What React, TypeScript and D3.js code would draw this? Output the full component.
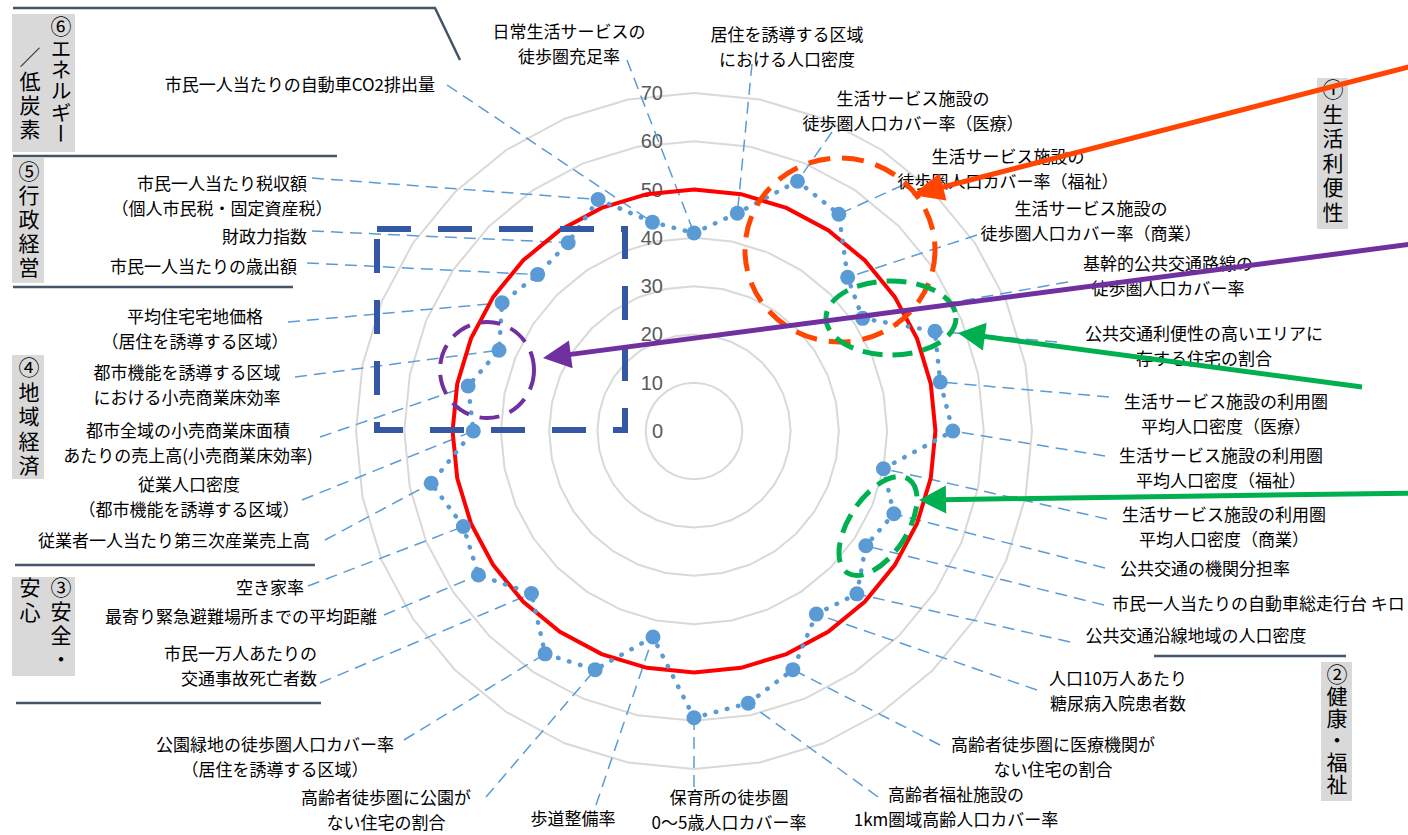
import React from 'react';
import * as d3 from 'd3';

// category labels, clockwise from the top ("\n" = line break)
const categories = [
  '日常生活サービスの\n徒歩圏充足率',
  '居住を誘導する区域\nにおける人口密度',
  '生活サービス施設の\n徒歩圏人口カバー率（医療）',
  '生活サービス施設の\n徒歩圏人口カバー率（福祉）',
  '生活サービス施設の\n徒歩圏人口カバー率（商業）',
  '基幹的公共交通路線の\n徒歩圏人口カバー率',
  '公共交通利便性の高いエリアに\n存する住宅の割合',
  '生活サービス施設の利用圏\n平均人口密度（医療）',
  '生活サービス施設の利用圏\n平均人口密度（福祉）',
  '生活サービス施設の利用圏\n平均人口密度（商業）',
  '公共交通の機関分担率',
  '市民一人当たりの自動車総走行台 キロ',
  '公共交通沿線地域の人口密度',
  '人口10万人あたり\n糖尿病入院患者数',
  '高齢者徒歩圏に医療機関が\nない住宅の割合',
  '高齢者福祉施設の\n1km圏域高齢人口カバー率',
  '保育所の徒歩圏\n0～5歳人口カバー率',
  '歩道整備率',
  '高齢者徒歩圏に公園が\nない住宅の割合',
  '公園緑地の徒歩圏人口カバー率\n（居住を誘導する区域）',
  '市民一万人あたりの\n交通事故死亡者数',
  '最寄り緊急避難場所までの平均距離',
  '空き家率',
  '従業者一人当たり第三次産業売上高',
  '従業人口密度\n（都市機能を誘導する区域）',
  '都市全域の小売商業床面積\nあたりの売上高(小売商業床効率)',
  '都市機能を誘導する区域\nにおける小売商業床効率',
  '平均住宅宅地価格\n（居住を誘導する区域）',
  '市民一人当たりの歳出額',
  '財政力指数',
  '市民一人当たり税収額\n（個人市民税・固定資産税）',
  '市民一人当たりの自動車CO2排出量',
];

// city values (blue dotted series)
const cityValues = [
  41, 46, 56, 54, 45, 42, 54, 52, 53.6, 40, 44.8, 42.8, 47.7, 45.6, 53.5, 57.5,
  59.4, 43.5, 53.5, 55.5, 47.6, 53.7, 51.7, 55.5, 45.7, 47.7, 43.7, 47.8, 45.8, 46.9, 51.9, 44.1,
];

// national average (red line)
const averageValues = [
  50, 50, 50, 50, 50, 50, 50, 50, 50, 50, 50, 50, 50, 50, 50, 50,
  50, 50, 50, 50, 50, 50, 50, 50, 50, 50, 50, 50, 50, 50, 50, 50,
];

const tickValues = [0, 10, 20, 30, 40, 50, 60, 70];

const groupNames = ['①生活利便性', '②健康・福祉', '③安全・', '安心', '④地域経済', '⑤行政経営', '⑥エネルギー', '／低炭素'];

// label placement: [x, y of first line, anchor, leader start x, leader start y]
const labelLayout: [number, number, string, number, number][] = [
  [569, 30, 'middle', 627, 60],
  [787, 33, 'middle', 752, 64],
  [913, 97, 'middle', 832, 132],
  [1008, 155, 'middle', 903, 185],
  [1091, 207, 'middle', 977, 235],
  [1168, 262, 'middle', 1068, 282],
  [1204, 332, 'middle', 1057, 342],
  [1226, 400, 'middle', 1109, 397],
  [1221, 454, 'middle', 1105, 456],
  [1224, 513, 'middle', 1107, 519],
  [1205, 567, 'middle', 1105, 568],
  [1112, 602, 'start', 1104, 605],
  [1196, 634, 'middle', 1070, 642],
  [1118, 677, 'middle', 1037, 690],
  [1053, 743, 'middle', 940, 745],
  [956, 793, 'middle', 878, 797],
  [729, 796, 'middle', 694, 787],
  [573, 817, 'middle', 596, 805],
  [386, 796, 'middle', 486, 797],
  [275, 743, 'middle', 404, 740],
  [317, 652, 'end', 320, 683],
  [377, 615, 'end', 384, 615],
  [304, 586, 'end', 308, 586],
  [174, 539, 'middle', 325, 540],
  [189, 483, 'middle', 302, 500],
  [188, 429, 'middle', 320, 437],
  [187, 371, 'middle', 295, 377],
  [195, 315, 'middle', 288, 322],
  [297, 265, 'end', 307, 263],
  [307, 235, 'end', 312, 231],
  [222, 182, 'middle', 312, 178],
  [435, 83, 'end', 447, 85],
];

// vertical group labels: [x, top y, letter spacing, box x, box y, box w, box h]
const groupLayout: [number, number, number, number, number, number, number][] = [
  [1333, 79, 3.5, 1317, 78, 31, 151],
  [1337, 664, 1, 1321, 662, 31, 139],
  [61, 577, 3, 12, 577, 63, 99],
  [30, 577, 4, 0, 0, 0, 0],
  [29, 357, 3.5, 12, 355, 32, 124],
  [29, 161, 3, 12, 158, 32, 125],
  [61, 16, 0.3, 12, 14, 63, 138],
  [30, 47, 3, 0, 0, 0, 0],
];

const FONT = "'Noto Sans CJK JP', 'Noto Sans', sans-serif";
const BLUE = '#5B9BD5';

function Arrow({ x1, y1, x2, y2, color, w, hl, hw }: any) {
  const dx = x2 - x1, dy = y2 - y1, L = Math.hypot(dx, dy);
  const ux = dx / L, uy = dy / L;
  const bx = x2 - ux * hl, by = y2 - uy * hl;
  const pts = [[x2, y2], [bx - uy * hw, by + ux * hw], [bx + uy * hw, by - ux * hw]];
  return (
    <g>
      <line x1={x1} y1={y1} x2={bx + ux * 2} y2={by + uy * 2} stroke={color} strokeWidth={w} />
      <polygon points={pts.map(p => p.join(',')).join(' ')} fill={color} />
    </g>
  );
}

export default function App() {
  const cx = 694, cy = 431;
  const n = categories.length;
  const angle = d3.scaleLinear().domain([0, n]).range([0, 2 * Math.PI]);
  const r = d3.scaleLinear().domain([0, 70]).range([0, 338]);
  const radial = d3.lineRadial<number>()
    .angle((_, i) => angle(i))
    .radius(d => r(d))
    .curve(d3.curveLinearClosed);

  const points = cityValues.map((v, i) => d3.pointRadial(angle(i), r(v)));

  return (
    <div style={{ position: 'absolute', left: 0, top: 0 }}>
      <svg width={1408} height={835} style={{ display: 'block', background: '#fff' }} fontFamily={FONT}>
        {/* divider lines */}
        <g stroke="#44546A" strokeWidth={2.5} fill="none">
          <polyline points="13,8 435,8 460,60" />
          <line x1={13} y1={156} x2={337} y2={156} />
          <line x1={13} y1={287} x2={293} y2={287} />
          <line x1={15} y1={565} x2={315} y2={565} />
          <line x1={16} y1={703} x2={321} y2={703} />
          <line x1={1154} y1={656} x2={1346} y2={656} />
        </g>

        <g transform={`translate(${cx},${cy})`}>
          {/* grid */}
          {tickValues.filter(v => v > 0).map(v => (
            <path key={v} d={radial(categories.map(() => v)) || ''} fill="none" stroke="#D9D9D9" strokeWidth={2} />
          ))}
          {tickValues.map(v => (
            <text key={v} x={-31} y={-r(v)} textAnchor="end" dominantBaseline="central"
              fontSize={20} fill="#595959" fontFamily="'Liberation Sans', sans-serif">{v}</text>
          ))}
        </g>

        {/* leader lines */}
        <g stroke={BLUE} strokeWidth={1.5} strokeDasharray="12 7" fill="none">
          {labelLayout.map((l, i) => (
            <line key={i} x1={l[3]} y1={l[4]} x2={cx + points[i][0]} y2={cy + points[i][1]} />
          ))}
        </g>

        <g transform={`translate(${cx},${cy})`}>
          <path d={radial(averageValues) || ''} fill="none" stroke="#FF0000" strokeWidth={4} />
          <path d={radial(cityValues) || ''} fill="none" stroke={BLUE} strokeWidth={4.5}
            strokeDasharray="0.5 11" strokeLinecap="round" />
          {points.map((p, i) => (
            <circle key={i} cx={p[0]} cy={p[1]} r={7.5} fill={BLUE} />
          ))}
        </g>

        {/* category labels */}
        <g fontSize={17} fill="#000">
          {categories.map((c, i) => {
            const [x, y, anchor] = labelLayout[i];
            return c.split('\n').map((line, j) => (
              <text key={i + '-' + j} x={x} y={y + j * 25.5} textAnchor={anchor} dominantBaseline="central">{line}</text>
            ));
          })}
        </g>

        {/* group labels */}
        {groupNames.map((g, k) => {
          const [x, y0, ls, bx, by, bw, bh] = groupLayout[k];
          return (
            <g key={k}>
              {bw > 0 && <rect x={bx} y={by} width={bw} height={bh} fill="#D9D9D9" />}
            </g>
          );
        })}
        {groupNames.map((g, k) => {
          const [x, y0, ls] = groupLayout[k];
          return (
            <text key={k} x={x} y={y0} fontSize={21} fill="#000" letterSpacing={ls}
              style={{ writingMode: 'vertical-rl', textOrientation: 'upright' } as any}>{g}</text>
          );
        })}

        {/* annotations */}
        <rect x={377} y={229} width={248} height={201} fill="none" stroke="#3558A5" strokeWidth={6}
          strokeDasharray="34 27" />
        <ellipse cx={840} cy={250} rx={95} ry={92} fill="none" stroke="#FF4500" strokeWidth={5} strokeDasharray="22 12" />
        <ellipse cx={891} cy={318} rx={65} ry={37} fill="none" stroke="#00B050" strokeWidth={5} strokeDasharray="20 10" />
        <ellipse cx={0} cy={0} rx={56} ry={29} transform="translate(878,526) rotate(-57)" fill="none"
          stroke="#00B050" strokeWidth={5} strokeDasharray="20 10" />
        <ellipse cx={487} cy={370} rx={47} ry={48} fill="none" stroke="#7030A0" strokeWidth={4} strokeDasharray="20 11" />

        <Arrow x1={1420} y1={64} x2={912} y2={195} color="#FF4500" w={5} hl={32} hw={14} />
        <Arrow x1={1420} y1={243} x2={543} y2={358} color="#7030A0" w={5} hl={28} hw={14} />
        <Arrow x1={1362} y1={387} x2={958} y2={333} color="#00B050" w={5} hl={27} hw={14} />
        <Arrow x1={1420} y1={493} x2={919} y2={500} color="#00B050" w={5} hl={27} hw={14} />
      </svg>
    </div>
  );
}
